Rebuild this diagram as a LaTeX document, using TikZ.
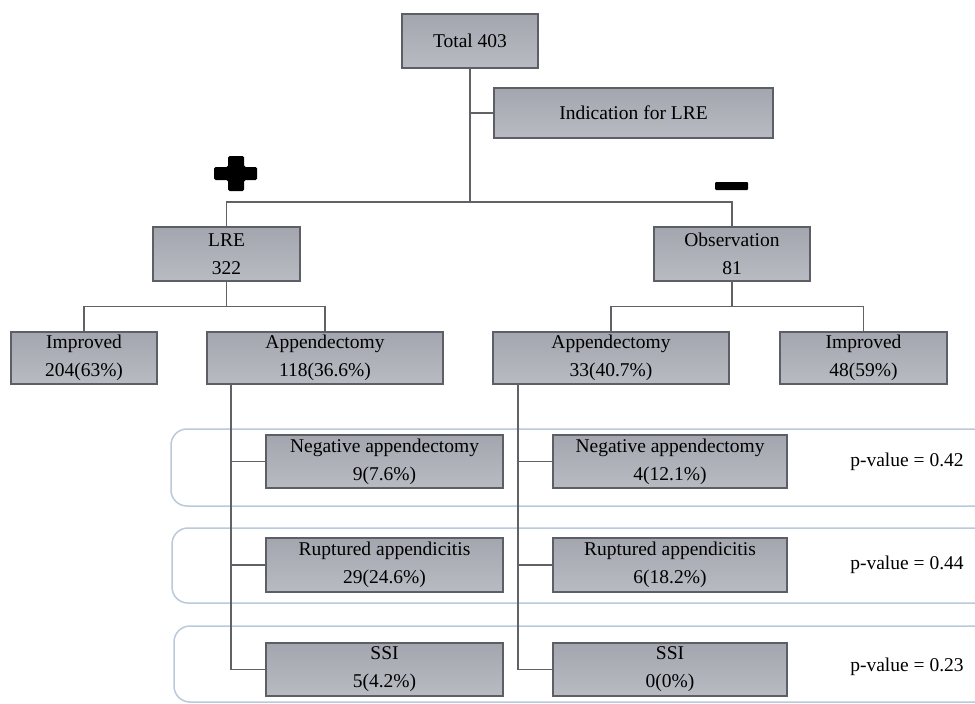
\documentclass[tikz,border=0pt]{standalone}
\usepackage{fontspec}
\setmainfont{Liberation Serif}
\begin{document}
\begin{tikzpicture}[x=1pt,y=-1pt,
  box/.style={draw=boxborder, line width=1.3pt, top color=boxtop, bottom color=boxbot,
    inner sep=0pt, align=center, font=\fontsize{19.5}{28}\selectfont, text=black},
  conn/.style={draw=connc, line width=1.6pt},
  panel/.style={draw=panelc, line width=1.5pt, rounded corners=16pt},
  pval/.style={font=\fontsize{19.5}{22}\selectfont, inner sep=0pt}]
\definecolor{boxborder}{HTML}{5C5F66}
\definecolor{boxtop}{HTML}{A3A6AE}
\definecolor{boxbot}{HTML}{B8BBC2}
\definecolor{connc}{HTML}{606266}
\definecolor{panelc}{HTML}{BACADA}
\useasboundingbox (0,0) rectangle (975,704);
\clip (0,0) rectangle (975,704);
\fill[white] (0,0) rectangle (975,704);

% panels
\draw[panel] (995,429) -- (171,429) -- (171,506) -- (995,506);
\draw[panel] (995,528) -- (172,528) -- (172,603) -- (995,603);
\draw[panel] (995,626) -- (174,626) -- (174,702) -- (995,702);

% boxes
\node[box, minimum width=136, minimum height=54] (t) at (470,41) {Total 403};
\node[box, minimum width=279, minimum height=50] (ind) at (633.5,113) {Indication for LRE};
\node[box, minimum width=147, minimum height=54] (lre) at (226.5,254) {LRE\\322};
\node[box, minimum width=156, minimum height=54] (obs) at (732,254) {Observation\\81};
\node[box, minimum width=146, minimum height=52] (impL) at (84,358) {Improved\\204(63\%)};
\node[box, minimum width=236, minimum height=52] (appL) at (325,358) {Appendectomy\\118(36.6\%)};
\node[box, minimum width=236, minimum height=52] (appR) at (611,358) {Appendectomy\\33(40.7\%)};
\node[box, minimum width=167, minimum height=52] (impR) at (863.5,358) {Improved\\48(59\%)};

\node[box, minimum width=237, minimum height=53] (naL) at (384.5,461.5) {Negative appendectomy\\9(7.6\%)};
\node[box, minimum width=234, minimum height=53] (naR) at (670,461.5) {Negative appendectomy\\4(12.1\%)};
\node[box, minimum width=237, minimum height=54] (rupL) at (384.5,565) {Ruptured appendicitis\\29(24.6\%)};
\node[box, minimum width=234, minimum height=54] (rupR) at (670,565) {Ruptured appendicitis\\6(18.2\%)};
\node[box, minimum width=237, minimum height=53] (ssiL) at (384.5,669.5) {SSI\\5(4.2\%)};
\node[box, minimum width=234, minimum height=53] (ssiR) at (670,669.5) {SSI\\0(0\%)};

\node[pval] (p1) at (907,461.5) {p-value = 0.42};
\node[pval] (p2) at (907,565) {p-value = 0.44};
\node[pval] (p3) at (907,667) {p-value = 0.23};

% connectors
\coordinate (jt) at (470,202);
\draw[conn] (t.south) -- (jt);
\draw[conn] (t.south |- ind.west) -- (ind.west);
\draw[conn] (lre.north) |- (jt) -| (obs.north);
\draw[conn] (lre.south) -- (lre.south |- 0,307);
\draw[conn] (impL.north) -- ++(0,-25) -| (appL.north);
\draw[conn] (obs.south) -- (obs.south |- 0,307);
\draw[conn] (appR.north) -- ++(0,-25) -| (impR.north);

\coordinate (sl) at (231,384);
\coordinate (sr) at (518,384);
\draw[conn] (sl) |- (ssiL.west);
\draw[conn] (sl |- naL.west) -- (naL.west);
\draw[conn] (sl |- rupL.west) -- (rupL.west);
\draw[conn] (sr) |- (ssiR.west);
\draw[conn] (sr |- naR.west) -- (naR.west);
\draw[conn] (sr |- rupR.west) -- (rupR.west);

% plus and minus signs
\fill[black, rounded corners=1.5pt] (228,156) -- (244,156) -- (244,167) -- (257,167) -- (257,180)
  -- (244,180) -- (244,191) -- (228,191) -- (228,180) -- (214,180) -- (214,167) -- (228,167) -- cycle;
\fill[black, rounded corners=1pt] (715,182) rectangle (748,190);
\end{tikzpicture}
\end{document}
